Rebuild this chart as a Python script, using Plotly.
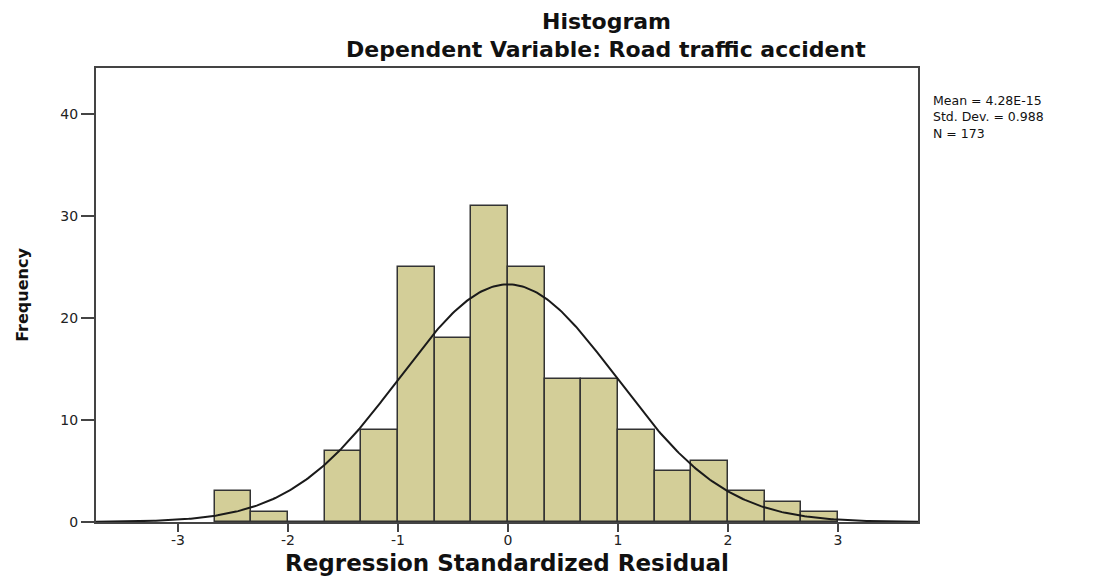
import numpy as np
import plotly.graph_objects as go

# Histogram data (bin width 1/3, starting at -8/3)
bin_start = -8/3
bin_width = 1/3
counts = [3, 1, 0, 7, 9, 25, 18, 31, 25, 14, 14, 9, 5, 6, 3, 2, 1]

# Summary statistics shown in the chart
mean_val = 4.28e-15
std_val = 0.988
n_val = 173
stats_text = ["Mean = 4.28E-15", "Std. Dev. = 0.988", "N = 173"]

x_ticks = [-3, -2, -1, 0, 1, 2, 3]
y_ticks = [0, 10, 20, 30, 40]

centers = [bin_start + bin_width * (i + 0.5) for i in range(len(counts))]

# Fitted normal curve from the stated mean, sd and N
xc = np.linspace(-3.745, 3.727, 400)
yc = n_val * bin_width * np.exp(-0.5 * ((xc - mean_val) / std_val) ** 2) / (std_val * np.sqrt(2 * np.pi))

fig = go.Figure()
fig.add_trace(go.Bar(
    x=centers, y=counts, width=bin_width,
    marker=dict(color="rgb(211,206,152)", line=dict(color="#333333", width=1.5)),
    showlegend=False, hoverinfo="x+y",
))
fig.add_trace(go.Scatter(
    x=xc, y=yc, mode="lines", line=dict(color="#1a1a1a", width=2),
    showlegend=False, hoverinfo="skip",
))

# page body has an 8px margin, so the figure is offset by 8px
OFF = 8
W, H = 1099 - OFF, 577 - OFF
L, R, T, B = 96 - OFF, 1099 - 918, 68 - OFF, 577 - 522
PW, PH = W - L - R, H - T - B

font_family = "DejaVu Sans"
fig.update_layout(
    width=W, height=H,
    margin=dict(l=L, r=R, t=T, b=B, autoexpand=False),
    plot_bgcolor="white", paper_bgcolor="white",
    bargap=0,
    font=dict(family=font_family, color="#222222"),
    xaxis=dict(
        range=[-3.745, 3.727], tickvals=x_ticks, ticktext=[str(v) for v in x_ticks],
        showgrid=False, zeroline=False, automargin=False,
        showline=True, linecolor="#444444", linewidth=2, mirror=True,
        ticks="outside", ticklen=8, tickwidth=1.5, tickcolor="#444444",
        ticklabelstandoff=-4,
        tickfont=dict(size=14, family=font_family, color="#222222"),
        title=dict(text="<b>Regression Standardized Residual</b>",
                   font=dict(size=23, family=font_family, color="#111111"), standoff=8),
    ),
    yaxis=dict(
        range=[0, 44.5], tickvals=y_ticks, ticktext=[str(v) for v in y_ticks],
        showgrid=False, zeroline=False, automargin=False,
        showline=True, linecolor="#444444", linewidth=2, mirror=True,
        ticks="outside", ticklen=13, tickwidth=1.5, tickcolor="#444444",
        tickfont=dict(size=14, family=font_family, color="#222222"),
        title=dict(text="<b>Frequency</b>",
                   font=dict(size=16, family=font_family, color="#111111"), standoff=28),
    ),
)

def px_x(x):
    return (x - OFF - L) / PW

def px_y(y):
    return (H - B - (y - OFF)) / PH

fig.add_annotation(text="<b>Histogram</b>", xref="paper", yref="paper",
                   x=px_x(606), y=px_y(8), xanchor="center", yanchor="top",
                   borderpad=0, showarrow=False,
                   font=dict(size=22, family=font_family, color="#111111"))
fig.add_annotation(text="<b>Dependent Variable: Road traffic accident</b>", xref="paper", yref="paper",
                   x=px_x(606), y=px_y(49), xanchor="center", yanchor="middle",
                   showarrow=False, font=dict(size=22, family=font_family, color="#111111"))

fig.add_annotation(text="<br>".join(stats_text), xref="paper", yref="paper",
                   x=px_x(931), y=px_y(91), xanchor="left", yanchor="top",
                   align="left", showarrow=False,
                   font=dict(size=12.5, family=font_family, color="#111111"))

fig.write_html("out.html")
